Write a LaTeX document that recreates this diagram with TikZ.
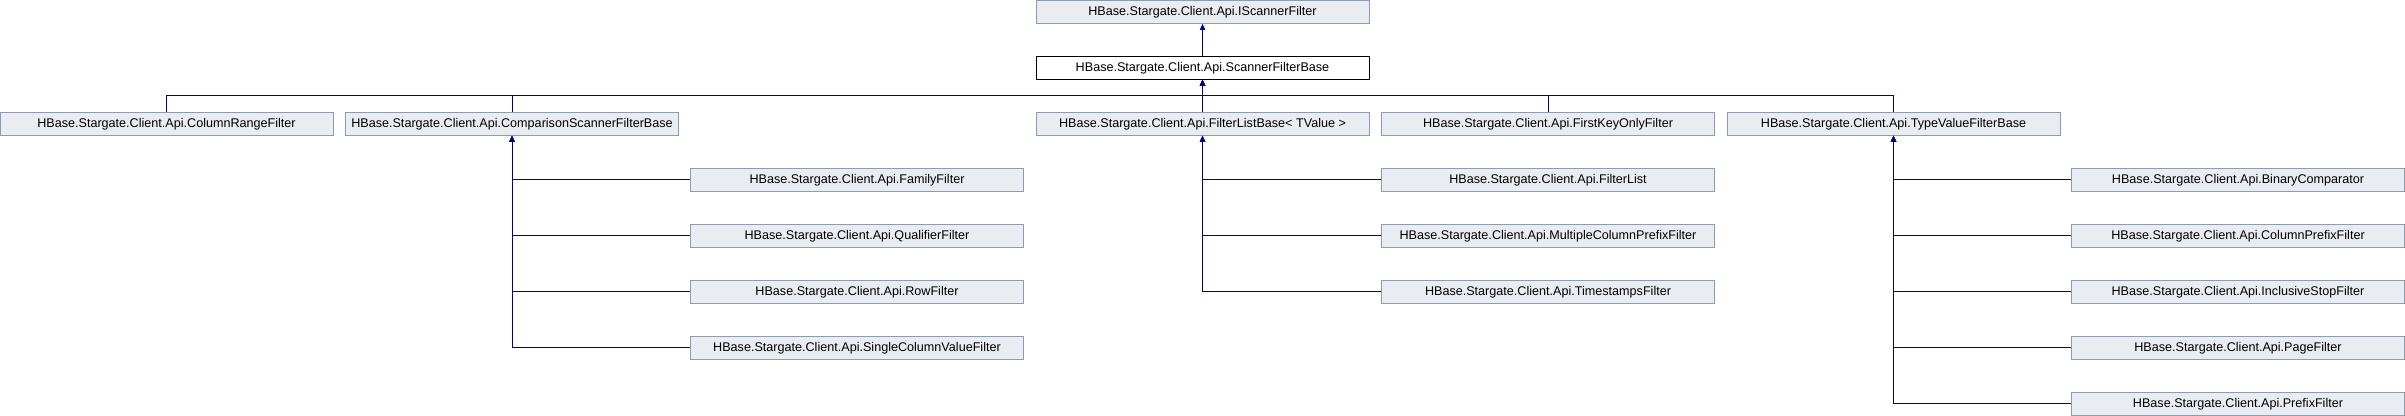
\documentclass[tikz,border=0pt]{standalone}
\usepackage{fontspec}
\setmainfont{Liberation Sans}
\usetikzlibrary{arrows.meta}
\definecolor{boxfill}{HTML}{E9ECF1}
\definecolor{boxline}{HTML}{8A9CAE}
\definecolor{linkblue}{HTML}{000096}

\begin{document}
\begin{tikzpicture}[x=0.5pt, y=-0.5pt,
	cls/.style={draw=boxline, fill=boxfill, line width=0.5pt, minimum width=166.5pt,
		minimum height=11.3pt, inner sep=0pt, font=\fontsize{6.3}{7}\selectfont},
	cur/.style={cls, draw=black, fill=white},
	inh/.style={draw=linkblue, line width=0.5pt, -{Triangle[width=2.6pt,length=3pt]}}]
	\useasboundingbox (0,0) rectangle (2405,416);
	% base classes
	\node[cls] (isf) at (1202.5, 12) {HBase.Stargate.Client.Api.IScannerFilter};
	\node[cur] (sfb) at (1202.5, 68) {HBase.Stargate.Client.Api.ScannerFilterBase};
	\coordinate (bus) at (0, 96);
	% direct subclasses
	\node[cls] (crf) at (166.5, 124) {HBase.Stargate.Client.Api.ColumnRangeFilter};
	\node[cls] (csfb) at (512, 124) {HBase.Stargate.Client.Api.ComparisonScannerFilterBase};
	\node[cls] (flb) at (1202.5, 124) {HBase.Stargate.Client.Api.FilterListBase< TValue >};
	\node[cls] (fkof) at (1548, 124) {HBase.Stargate.Client.Api.FirstKeyOnlyFilter};
	\node[cls] (tvfb) at (1893.5, 124) {HBase.Stargate.Client.Api.TypeValueFilterBase};
	% comparison filters
	\node[cls] (ff) at (857, 180) {HBase.Stargate.Client.Api.FamilyFilter};
	\node[cls] (qf) at (857, 236) {HBase.Stargate.Client.Api.QualifierFilter};
	\node[cls] (rf) at (857, 292) {HBase.Stargate.Client.Api.RowFilter};
	\node[cls] (scvf) at (857, 348) {HBase.Stargate.Client.Api.SingleColumnValueFilter};
	% filter lists
	\node[cls] (fl) at (1548, 180) {HBase.Stargate.Client.Api.FilterList};
	\node[cls] (mcpf) at (1548, 236) {HBase.Stargate.Client.Api.MultipleColumnPrefixFilter};
	\node[cls] (tsf) at (1548, 292) {HBase.Stargate.Client.Api.TimestampsFilter};
	% type value filters
	\node[cls] (bc) at (2238, 180) {HBase.Stargate.Client.Api.BinaryComparator};
	\node[cls] (cpf) at (2238, 236) {HBase.Stargate.Client.Api.ColumnPrefixFilter};
	\node[cls] (isf2) at (2238, 292) {HBase.Stargate.Client.Api.InclusiveStopFilter};
	\node[cls] (pgf) at (2238, 348) {HBase.Stargate.Client.Api.PageFilter};
	\node[cls] (pxf) at (2238, 404) {HBase.Stargate.Client.Api.PrefixFilter};

	\draw[inh] (sfb) -- (isf);
	\foreach \c in {crf, csfb, flb, fkof, tvfb}
		\draw[inh] (\c.north) -- (\c.north |- bus) -| (sfb.south);
	\foreach \c in {ff, qf, rf, scvf}
		\draw[inh] (\c.west) -| (csfb.south);
	\foreach \c in {fl, mcpf, tsf}
		\draw[inh] (\c.west) -| (flb.south);
	\foreach \c in {bc, cpf, isf2, pgf, pxf}
		\draw[inh] (\c.west) -| (tvfb.south);
\end{tikzpicture}
\end{document}
